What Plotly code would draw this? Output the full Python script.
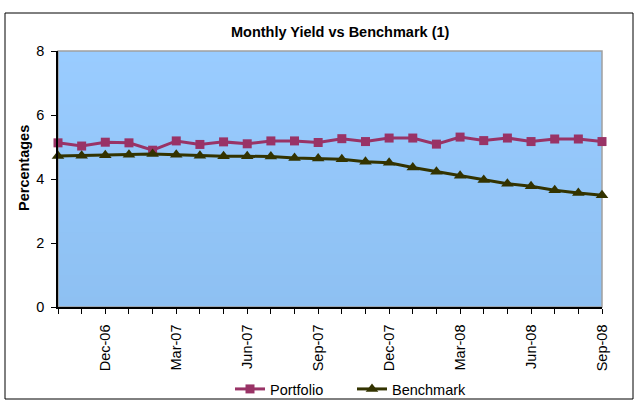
import plotly.graph_objects as go

months = ["Oct-06", "Nov-06", "Dec-06", "Jan-07", "Feb-07", "Mar-07", "Apr-07", "May-07",
          "Jun-07", "Jul-07", "Aug-07", "Sep-07", "Oct-07", "Nov-07", "Dec-07", "Jan-08",
          "Feb-08", "Mar-08", "Apr-08", "May-08", "Jun-08", "Jul-08", "Aug-08", "Sep-08"]
portfolio = [5.13, 5.03, 5.15, 5.13, 4.90, 5.19, 5.08, 5.16, 5.10, 5.19, 5.19, 5.14,
             5.26, 5.17, 5.28, 5.28, 5.09, 5.31, 5.20, 5.28, 5.17, 5.25, 5.25, 5.17]
benchmark = [4.72, 4.73, 4.74, 4.76, 4.78, 4.76, 4.73, 4.71, 4.71, 4.70, 4.66, 4.64,
             4.62, 4.54, 4.51, 4.36, 4.23, 4.10, 3.97, 3.85, 3.77, 3.65, 3.56, 3.49]
tick_labels = ["Dec-06", "Mar-07", "Jun-07", "Sep-07", "Dec-07", "Mar-08", "Jun-08", "Sep-08"]

FONT = "Arial, Liberation Sans, sans-serif"
W, H = 639, 405
L, R, T, B = 58, 602, 51, 307

def px_x(p):
    return (p - L) / (R - L)

def px_y(p):
    return (B - p) / (B - T)

fig = go.Figure()
fig.add_trace(go.Scatter(x=months, y=portfolio, name="Portfolio", mode="lines+markers",
                         line=dict(color="#993366", width=3),
                         marker=dict(symbol="square", size=9, color="#993366"),
                         cliponaxis=False))
fig.add_trace(go.Scatter(x=months, y=benchmark, name="Benchmark", mode="lines+markers",
                         line=dict(color="#333300", width=3),
                         marker=dict(symbol="triangle-up", size=11, color="#333300"),
                         cliponaxis=False))

shapes = []
# gradient background bands (overlapping to avoid seams)
n = 24
c0 = (153, 204, 255)
c1 = (142, 192, 242)
for i in range(n):
    f = i / (n - 1)
    col = tuple(round(c0[k] + (c1[k] - c0[k]) * f) for k in range(3))
    shapes.append(dict(type="rect", xref="paper", yref="paper", x0=0, x1=1,
                       y0=max(0, 1 - (i + 1) / n - 0.02), y1=1 - i / n, line=dict(width=0),
                       fillcolor="rgb(%d,%d,%d)" % col, layer="below"))
shapes.append(dict(type="rect", xref="paper", yref="paper", x0=0, x1=1, y0=0, y1=1,
                   line=dict(color="#A0A0A0", width=1.5), layer="below"))
# outer chart border
shapes.append(dict(type="rect", xref="paper", yref="paper",
                   x0=px_x(5), x1=px_x(633), y0=px_y(399), y1=px_y(13),
                   line=dict(color="#000000", width=1)))

fig.update_layout(
    width=W, height=H,
    margin=dict(l=L, r=W - R, t=T, b=H - B, autoexpand=False),
    paper_bgcolor="white", plot_bgcolor="rgba(0,0,0,0)",
    font=dict(family=FONT, size=14, color="#000000"),
    shapes=shapes,
    showlegend=True,
    legend=dict(orientation="h", x=px_x(230), y=px_y(373), xanchor="left", yanchor="top",
                font=dict(size=14.5), bgcolor="rgba(0,0,0,0)",
                entrywidth=77, entrywidthmode="pixels", tracegroupgap=0),
    annotations=[
        dict(text="<b>Monthly Yield vs Benchmark (1)</b>", xref="paper", yref="paper",
             x=px_x(340), y=px_y(32), xanchor="center", yanchor="middle", showarrow=False,
             font=dict(size=14.5)),
        dict(text="<b>Percentages</b>", xref="paper", yref="paper",
             x=px_x(24), y=px_y(168), xanchor="center", yanchor="middle", showarrow=False,
             textangle=-90, font=dict(size=14.5)),
    ],
)
fig.update_xaxes(type="category", range=[0, len(months) - 1], automargin=False,
                 tickmode="array", tickvals=months,
                 ticktext=[m if m in tick_labels else "" for m in months],
                 tickangle=-90, ticks="outside", ticklen=5, tickcolor="#000",
                 showline=True, linecolor="#000", linewidth=1.5, showgrid=False,
                 zeroline=False, tickfont=dict(size=14.5), ticklabelstandoff=5)
fig.update_yaxes(range=[0, 8], tickvals=[0, 2, 4, 6, 8], ticks="outside", ticklen=5,
                 automargin=False,
                 tickcolor="#000", showline=True, linecolor="#000", linewidth=1.5,
                 showgrid=False, zeroline=False, tickfont=dict(size=14.5),
                 ticklabelstandoff=4)

fig.write_html("out.html", config={"displayModeBar": False},
               post_script="document.body.style.margin='0';document.body.style.overflow='hidden';")
